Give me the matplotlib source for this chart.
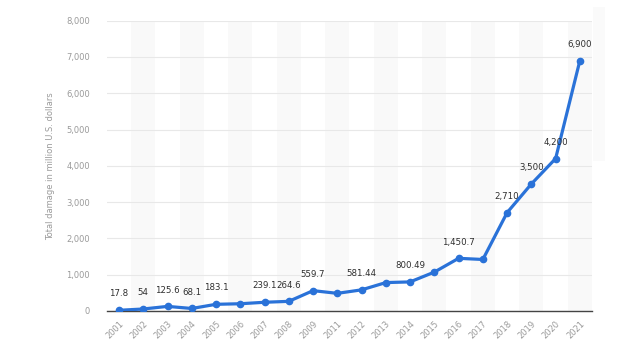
import matplotlib.pyplot as plt
import numpy as np

# data
years = ['2001', '2002', '2003', '2004', '2005', '2006', '2007', '2008', '2009',
         '2011', '2012', '2013', '2014', '2015', '2016', '2017', '2018', '2019',
         '2020', '2021']
damage = [17.8, 54, 125.6, 68.1, 183.1, 198.4, 239.1, 264.6, 559.7,
          485.3, 581.44, 781.8, 800.49, 1070.7, 1450.7, 1418.7, 2710, 3500,
          4200, 6900]
labels = ['17.8', '54', '125.6', '68.1', '183.1', '', '239.1', '264.6', '559.7',
          '', '581.44', '', '800.49', '', '1,450.7', '', '2,710', '3,500',
          '4,200', '6,900']
yticks = [0, 1000, 2000, 3000, 4000, 5000, 6000, 7000, 8000]

blue = '#2a72d8'
grey = '#9a9a9a'

fig = plt.figure(figsize=(6.4, 3.57), dpi=100)
ax = fig.add_axes([0.167, 0.129, 0.758, 0.813])

x = np.arange(len(years))

# alternate column shading
for i in x[1::2]:
    ax.axvspan(i - 0.5, i + 0.5, color='#f9f9f9', zorder=0, lw=0)

ax.plot(x, damage, color=blue, lw=2.3, marker='o', ms=4.5, zorder=3,
        solid_joinstyle='round')

for xi, v, lab in zip(x, damage, labels):
    if lab:
        ax.annotate(lab, (xi, v), xytext=(0, 8.5), textcoords='offset points',
                    ha='center', va='bottom', fontsize=6.2, color='#2e2e2e')

ax.set_xlim(-0.5, len(years) - 0.5)
ax.set_ylim(0, 8000)
ax.set_yticks(yticks)
ax.set_yticklabels(['{:,}'.format(t) for t in yticks])
ax.set_xticks(x)
ax.set_xticklabels(years, rotation=45, ha='right', rotation_mode='anchor')
ax.tick_params(axis='both', length=0, labelsize=6, colors=grey)
ax.tick_params(axis='x', pad=6)
ax.tick_params(axis='y', pad=12)
ax.yaxis.grid(True, color='#e8e8e8', lw=0.8)
ax.set_axisbelow(True)

for s in ['top', 'right', 'left']:
    ax.spines[s].set_visible(False)
ax.spines['bottom'].set_color('#444444')
ax.spines['bottom'].set_linewidth(1.0)

ax.set_ylabel('Total damage in million U.S. dollars', fontsize=6, color=grey,
              labelpad=8)

# faint side panel on the right
fig.patches.append(plt.Rectangle((0.927, 0.55), 0.018, 0.43, transform=fig.transFigure,
                                 color='#fafafa', lw=0, zorder=0))

fig.savefig('out.png', dpi=100)
